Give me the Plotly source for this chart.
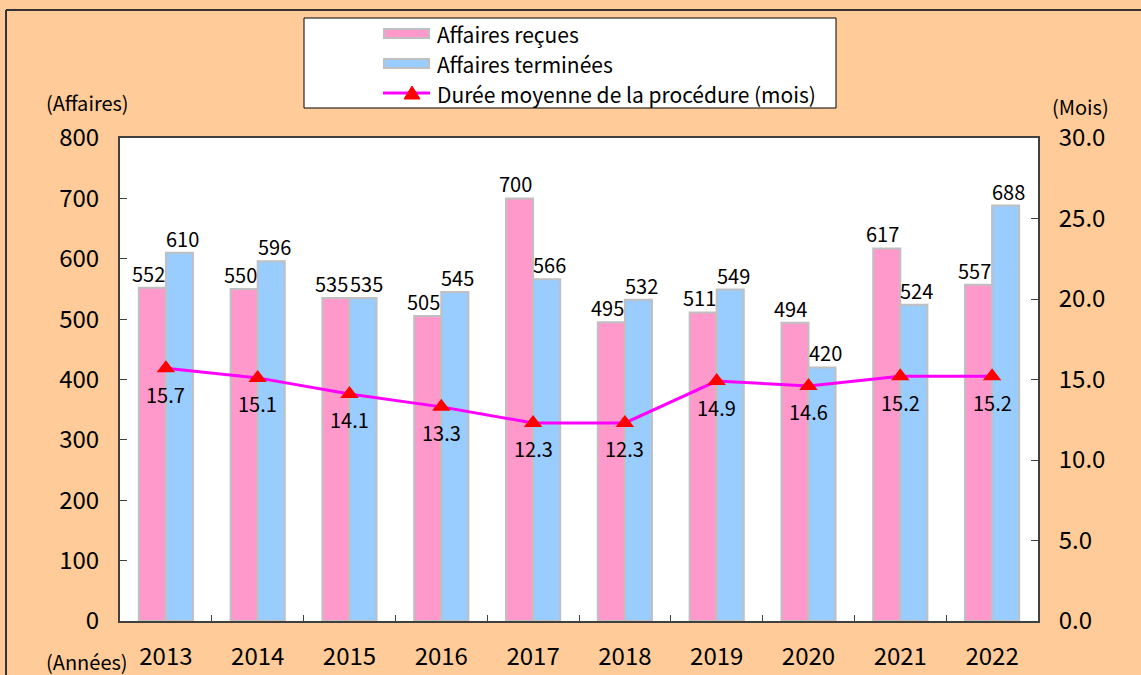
import plotly.graph_objects as go

years = ["2013", "2014", "2015", "2016", "2017", "2018", "2019", "2020", "2021", "2022"]
recues = [552, 550, 535, 505, 700, 495, 511, 494, 617, 557]
terminees = [610, 596, 535, 545, 566, 532, 549, 420, 524, 688]
duree = [15.7, 15.1, 14.1, 13.3, 12.3, 12.3, 14.9, 14.6, 15.2, 15.2]
legend_names = ["Affaires reçues", "Affaires terminées", "Durée moyenne de la procédure (mois)"]

FONT = "Noto Sans CJK JP"
W, H = 1141, 675
L, R, T, B = 120, 1038, 138, 621
PINK, BLUE, EDGE = "#FF99CC", "#99CCFF", "#C0C0C0"
BARGAP = 0.41
HALF = (1 - BARGAP) / 4  # offset of each bar centre from the category centre
LBL = dict(size=20, family=FONT, color="black")

fig = go.Figure()
fig.add_trace(go.Bar(
    x=years, y=recues, name=legend_names[0],
    marker=dict(color=PINK, line=dict(color=EDGE, width=2)),
))
fig.add_trace(go.Bar(
    x=years, y=terminees, name=legend_names[1],
    marker=dict(color=BLUE, line=dict(color=EDGE, width=2)),
))
fig.add_trace(go.Scatter(
    x=years, y=duree, name=legend_names[2], yaxis="y2",
    mode="lines+markers",
    line=dict(color="#FF00FF", width=3),
    marker=dict(symbol="triangle-up", size=16, color="#FF0000"),
    cliponaxis=False,
))

def fx(px):
    return (px - L) / (R - L)

def fy(py):
    return (B - py) / (B - T)

annotations = []
for i, v in enumerate(recues):
    annotations.append(dict(text=str(v), xref="x", yref="y", x=i - HALF, y=v,
                            xshift=-4, yshift=-2, showarrow=False, font=LBL,
                            xanchor="center", yanchor="bottom"))
for i, v in enumerate(terminees):
    annotations.append(dict(text=str(v), xref="x", yref="y", x=i + HALF, y=v,
                            xshift=3, yshift=-2, showarrow=False, font=LBL,
                            xanchor="center", yanchor="bottom"))
for i, v in enumerate(duree):
    annotations.append(dict(text=f"{v:.1f}", xref="x", yref="y2", x=i, y=v, yshift=-26,
                            showarrow=False, font=LBL, xanchor="center", yanchor="middle"))
annotations += [
    dict(text="(Affaires)", xref="paper", yref="paper", x=fx(87), y=fy(103),
         showarrow=False, font=dict(size=20, family=FONT), xanchor="center", yanchor="middle"),
    dict(text="(Mois)", xref="paper", yref="paper", x=fx(1080), y=fy(106),
         showarrow=False, font=dict(size=20, family=FONT), xanchor="center", yanchor="middle"),
    dict(text="(Années)", xref="paper", yref="paper", x=fx(87), y=fy(661),
         showarrow=False, font=dict(size=20, family=FONT), xanchor="center", yanchor="middle"),
]
for name, ty in zip(legend_names, [34, 64, 94]):
    annotations.append(dict(text=name, xref="paper", yref="paper", x=fx(435), y=fy(ty),
                            showarrow=False, font=dict(size=21, family=FONT),
                            xanchor="left", yanchor="middle"))

shapes = [
    dict(type="rect", xref="paper", yref="paper",
         x0=fx(304), x1=fx(836), y0=fy(18), y1=fy(108),
         fillcolor="white", line=dict(color="black", width=1), layer="above"),
    dict(type="rect", xref="paper", yref="paper",
         x0=fx(384), x1=fx(429), y0=fy(29), y1=fy(38),
         fillcolor=PINK, line=dict(color=EDGE, width=2), layer="above"),
    dict(type="rect", xref="paper", yref="paper",
         x0=fx(384), x1=fx(429), y0=fy(59), y1=fy(68),
         fillcolor=BLUE, line=dict(color=EDGE, width=2), layer="above"),
    dict(type="line", xref="paper", yref="paper",
         x0=fx(383), x1=fx(430), y0=fy(93), y1=fy(93),
         line=dict(color="#FF00FF", width=3), layer="above"),
    dict(type="path", xref="paper", yref="paper",
         path=f"M {fx(404)} {fy(99)} L {fx(420)} {fy(99)} L {fx(412)} {fy(86)} Z",
         fillcolor="#FF0000", line=dict(color="#FF0000", width=1), layer="above"),
    dict(type="line", xref="paper", yref="paper",
         x0=fx(6), x1=fx(1141), y0=fy(10), y1=fy(10),
         line=dict(color="#333333", width=2)),
    dict(type="line", xref="paper", yref="paper",
         x0=fx(6), x1=fx(6), y0=fy(10), y1=fy(675),
         line=dict(color="#333333", width=2)),
]

fig.update_layout(
    width=W, height=H,
    margin=dict(l=L, r=W - R, t=T, b=H - B, autoexpand=False),
    paper_bgcolor="#FFCC99", plot_bgcolor="white",
    font=dict(family=FONT, color="black", size=18),
    barmode="group", bargap=BARGAP, bargroupgap=0.0,
    showlegend=False,
    xaxis=dict(
        type="category", range=[-0.5, 9.5], showline=True, linecolor="#404040", linewidth=2,
        mirror=True, ticks="inside", tickson="boundaries", ticklen=6,
        tickcolor="#404040", tickfont=dict(size=24, family=FONT),
        showgrid=False, ticklabelstandoff=13, automargin=False,
    ),
    yaxis=dict(
        range=[0, 800], dtick=100, showline=True, linecolor="#404040", linewidth=2,
        ticks="inside", ticklen=7, tickcolor="#404040", showgrid=False,
        tickfont=dict(size=24, family=FONT), ticklabelstandoff=14, zeroline=False,
        automargin=False,
    ),
    yaxis2=dict(
        range=[0, 30], dtick=5, tickformat=".1f", overlaying="y", side="right",
        showline=True, linecolor="#404040", linewidth=2, ticks="inside", ticklen=7,
        tickcolor="#404040", showgrid=False, tickfont=dict(size=24, family=FONT),
        ticklabelstandoff=14, zeroline=False, automargin=False,
    ),
    shapes=shapes,
    annotations=annotations,
)

fig.write_html("out.html")
